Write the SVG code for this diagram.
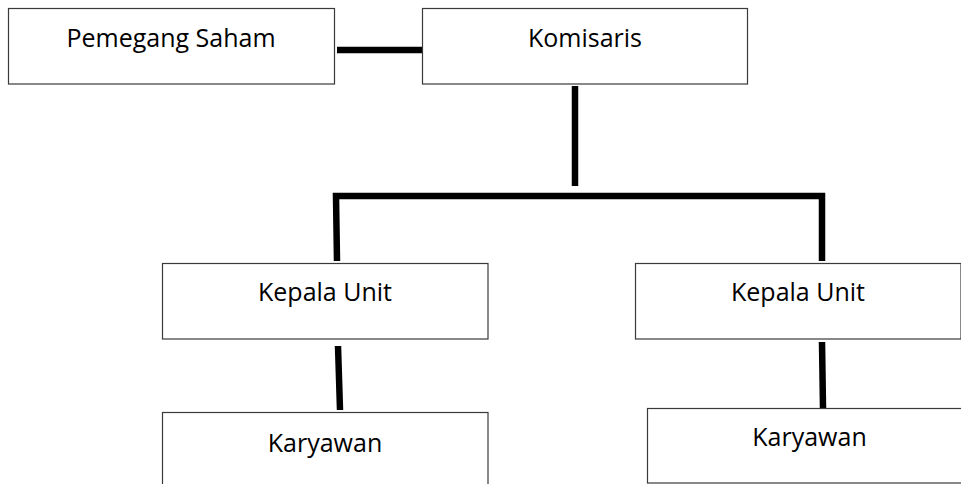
<svg xmlns="http://www.w3.org/2000/svg" width="961" height="484" viewBox="0 0 961 484">
<style>
.box{fill:#fff;stroke:#3a3a3a;stroke-width:1.2}
.lbl{font-family:"Open Sans","Liberation Sans",sans-serif;font-size:25px;fill:#000;text-anchor:middle}
.con{stroke:#000;stroke-width:6.5;fill:none}
</style>
<rect width="961" height="484" fill="#fff"/>
<g id="connectors">
<line class="con" x1="337" y1="50" x2="426" y2="50"/>
<line class="con" x1="575" y1="86" x2="575" y2="186"/>
<polyline class="con" points="337,261 336,196 822,196 822,261"/>
<line class="con" x1="338" y1="346" x2="340" y2="410"/>
<line class="con" x1="822" y1="342" x2="823" y2="408"/>
</g>
<g id="pemegang-saham">
<rect class="box" x="8.5" y="8.5" width="326" height="75.5"/>
<text class="lbl" x="171" y="47">Pemegang Saham</text>
</g>
<g id="komisaris">
<rect class="box" x="422.5" y="8.5" width="325" height="75.5"/>
<text class="lbl" x="585" y="47">Komisaris</text>
</g>
<g id="kepala-unit-1">
<rect class="box" x="162.5" y="263.5" width="325.5" height="75.5"/>
<text class="lbl" x="325" y="301">Kepala Unit</text>
</g>
<g id="kepala-unit-2">
<rect class="box" x="635.5" y="263.5" width="325.5" height="75.5"/>
<text class="lbl" x="798" y="301">Kepala Unit</text>
</g>
<g id="karyawan-1">
<rect class="box" x="162.5" y="412.5" width="325.5" height="80"/>
<text class="lbl" x="325" y="452">Karyawan</text>
</g>
<g id="karyawan-2">
<rect class="box" x="647.5" y="408.5" width="320" height="74.5"/>
<text class="lbl" x="809.5" y="446">Karyawan</text>
</g>
</svg>
